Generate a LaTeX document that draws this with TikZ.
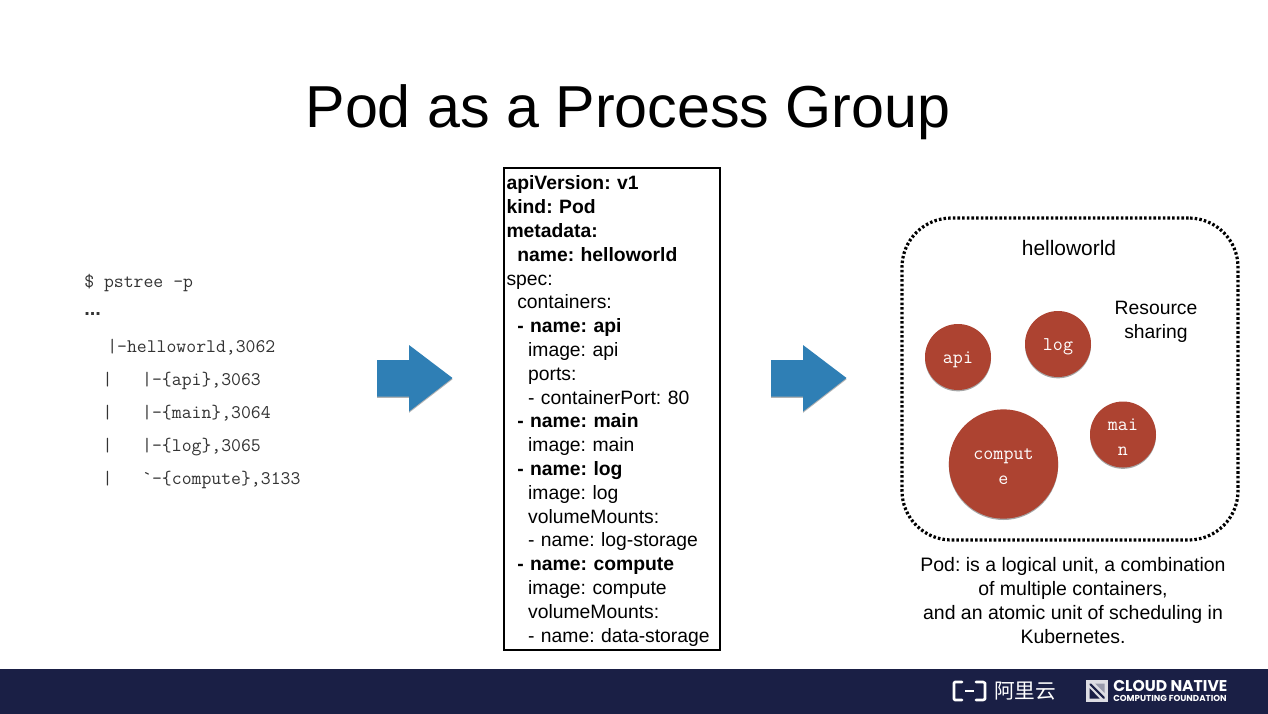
\documentclass[tikz,border=0pt]{standalone}
\usepackage{fontspec}
\setmainfont{Liberation Sans}
\setmonofont{Latin Modern Mono}
\newfontfamily\cjkfont{Noto Sans CJK SC}
\newfontfamily\logofont{Poppins}
\usetikzlibrary{shadows}
\definecolor{footerblue}{HTML}{1A1F45}
\definecolor{arrowblue}{HTML}{2F7FB5}
\definecolor{podred}{HTML}{AD4331}
\definecolor{monogray}{HTML}{333333}
\newcommand{\iA}{\hspace*{8.1pt}}
\newcommand{\iB}{\hspace*{16.2pt}}
\frenchspacing
\tikzset{
  px/.style={x=0.75pt,y=-0.75pt},
  mono/.style={font=\ttfamily\fontsize{14.4}{17}\selectfont,text=monogray,anchor=base west,inner sep=0pt},
  sans/.style={font=\fontsize{14.5}{18}\selectfont,text=black,align=center,inner sep=0pt},
  container/.style={circle,fill=podred,inner sep=0pt,
    drop shadow={shadow xshift=0pt,shadow yshift=-1pt,opacity=.35,fill=black}},
  ctext/.style={label={[text=white,align=center,inner sep=0pt,yshift=-2.2pt,
    font=\ttfamily\fontsize{14.6}{19}\selectfont]center:#1}},
  blockarrow/.style={fill=arrowblue,drop shadow={shadow xshift=0pt,shadow yshift=-1pt,opacity=.3,fill=black}},
}
\begin{document}
\begin{tikzpicture}[px]
\useasboundingbox (0,0) rectangle (1268,714);
\fill[white] (0,0) rectangle (1268,714);
\node[font=\fontsize{44.4}{50}\selectfont,inner sep=0pt] (title) at (628,112.5) {Pod as a Process Group};

% pstree
\node[mono] (l1) at (84,287) {\$ pstree -p};
\node[mono,font=\fontsize{15}{18}\selectfont\bfseries] (l2) at (84,315) {...};
\node[mono] (l3) at (107,352.5) {|-helloworld,3062};
\node[mono] (l4) at (102.4,385.5) {|\phantom{xxx}|-\{api\},3063};
\node[mono] (l5) at (102.4,418.5) {|\phantom{xxx}|-\{main\},3064};
\node[mono] (l6) at (102.4,451.5) {|\phantom{xxx}|-\{log\},3065};
\node[mono] (l7) at (102.4,484.5) {|\phantom{xxx}\textasciigrave-\{compute\},3133};

% block arrows
\fill[blockarrow] (377,360) -- (409,360) -- (409,345) -- (452.5,378) -- (409,411.5) -- (409,396.5) -- (377,396.5) -- cycle;
\fill[blockarrow] (771,360) -- (803,360) -- (803,345) -- (846.5,378) -- (803,411.5) -- (803,396.5) -- (771,396.5) -- cycle;

% yaml
\node[draw=black,line width=0.95pt,minimum width=162pt,minimum height=361.5pt,inner sep=0pt] (yamlbox) at (612,409) {};
\node[text width=159pt,inner sep=0pt,align=left,
  font=\fontsize{14.5}{17.85}\selectfont] (yaml) at (612.5,411) {%
\textbf{apiVersion: v1}\\
\textbf{kind: Pod}\\
\textbf{metadata:}\\
\iA\textbf{name: helloworld}\\
spec:\\
\iA containers:\\
\iA\textbf{- name: api}\\
\iB image: api\\
\iB ports:\\
\iB - containerPort: 80\\
\iA\textbf{- name: main}\\
\iB image: main\\
\iA\textbf{- name: log}\\
\iB image: log\\
\iB volumeMounts:\\
\iB - name: log-storage\\
\iA\textbf{- name: compute}\\
\iB image: compute\\
\iB volumeMounts:\\
\iB - name: data-storage};

% pod
\node[draw=black,line width=2.4pt,dash pattern=on 1.9pt off 1.6pt,rounded corners=37pt,minimum width=252pt,minimum height=241.5pt,inner sep=0pt] (pod) at (1070,379) {};
\node[sans,font=\fontsize{15.7}{18}\selectfont] (podname) at (1069,248) {helloworld};
\node[sans] (res) at (1156,321.5) {Resource\\sharing};
\node[container,minimum size=49.5pt,ctext={api}] (api) at (958,357) {};
\node[container,minimum size=49.5pt,ctext={log}] (log) at (1058,344) {};
\node[container,minimum size=49.5pt,ctext={mai\\n}] (main) at (1123,434.5) {};
\node[container,minimum size=82pt,ctext={comput\\e}] (compute) at (1003.5,464) {};
\node[sans,font=\fontsize{14.6}{17.85}\selectfont] (cap) at (1073,600.5) {Pod: is a logical unit, a combination\\of multiple containers,\\and an atomic unit of scheduling in\\Kubernetes.};

% footer
\fill[footerblue] (0,669) rectangle (1268,714);
\draw[white,line width=2pt,line cap=round,line join=round] (962,682) -- (955,682) -- (954,683) -- (954,699) -- (955,700) -- (962,700);
\draw[white,line width=2pt,line cap=round,line join=round] (976,682) -- (983,682) -- (985,683) -- (985,699) -- (983,700) -- (976,700);
\draw[white,line width=1pt] (965,691) -- (974,691);
\node[text=white,inner sep=0pt,font=\cjkfont\fontsize{15.5}{18}\selectfont] (ali) at (1025,691) {阿里云};
\fill[white!85!footerblue] (1086,680) rectangle (1108,702);
\fill[footerblue] (1089.5,683.5) -- (1091,683.5) -- (1104.5,697) -- (1104.5,698.5) -- (1103,698.5) -- (1089.5,685) -- cycle;
\fill[footerblue] (1089.5,688) -- (1099.5,698.5) -- (1089.5,698.5) -- cycle;
\fill[white!55!footerblue] (1095,683.5) -- (1104.5,683.5) -- (1104.5,693) -- cycle;
\node[text=white,anchor=west,inner sep=0pt,font=\logofont\bfseries\fontsize{11.7}{12}\selectfont] (cloud) at (1113,686) {CLOUD NATIVE};
\node[text=white,anchor=west,inner sep=0pt,font=\logofont\bfseries\fontsize{6.5}{7}\selectfont] (cncf) at (1113,698.5) {COMPUTING FOUNDATION};
\end{tikzpicture}
\end{document}
